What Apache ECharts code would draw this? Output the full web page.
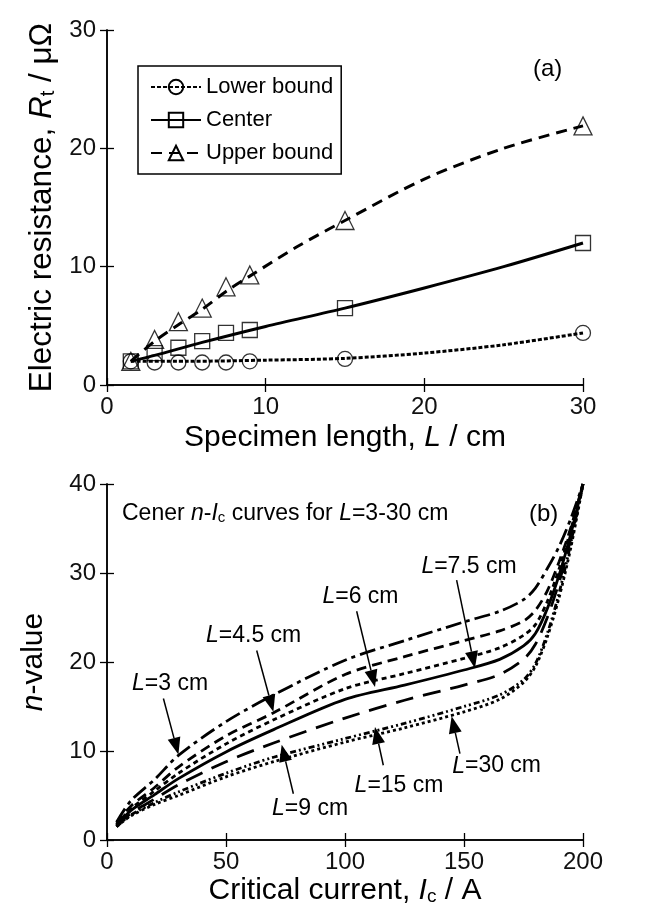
<!DOCTYPE html>
<html>
<head>
<meta charset="utf-8">
<script src="https://cdn.jsdelivr.net/npm/echarts@6/dist/echarts.min.js"></script>
<style>
  html, body { margin: 0; padding: 0; background: #fff; }
  #chart { width: 656px; height: 916px; }
</style>
</head>
<body>
<div id="chart"></div>
<script>
// ---- (a) electric resistance vs specimen length ----
const lengths = [1.5, 3, 4.5, 6, 7.5, 9, 15, 30];
const lowerPts = [2.0, 1.9, 1.9, 1.9, 1.9, 2.0, 2.2, 4.4];
const centerPts = [2.0, 2.7, 3.15, 3.7, 4.4, 4.65, 6.5, 12.0];
const upperPts = [2.0, 3.85, 5.35, 6.5, 8.3, 9.3, 13.9, 21.9];

// fitted curves
const fitLowerL = [1.5, 5, 10, 15, 20, 25, 30];
const fitLower = [2.0, 2.0, 2.1, 2.25, 2.7, 3.4, 4.4];
const fitCenterL = [1.5, 3, 6, 10, 15, 20, 25, 30];
const fitCenter = [2.0, 2.5, 3.6, 4.95, 6.5, 8.2, 10.0, 12.0];
const fitUpperL = [1.5, 3, 4.5, 6, 7.5, 9, 12, 15, 20, 25, 30];
const fitUpper = [2.0, 3.7, 5.1, 6.4, 7.9, 9.2, 11.7, 13.9, 17.4, 20.0, 21.9];

// ---- (b) n-value vs critical current ----
const currents = [4, 10, 20, 30, 50, 70, 100, 125, 150, 165, 175, 180, 185, 190, 195, 200];
const n3 = [2.0, 4.4, 6.8, 9.5, 13.3, 16.3, 20.2, 22.4, 24.5, 25.7, 27.0, 28.3, 30.5, 33.0, 36.2, 40];
const n4_5 = [1.8, 3.8, 5.9, 8.2, 11.7, 14.3, 18.6, 20.6, 22.4, 23.5, 24.6, 25.8, 28.0, 31.3, 35.2, 40];
const n6 = [1.7, 3.5, 5.5, 7.5, 10.8, 13.5, 17.0, 18.7, 20.4, 21.6, 23.0, 24.2, 26.8, 30.5, 35.0, 40];
const n7_5 = [1.6, 3.3, 5.1, 6.9, 9.9, 12.4, 15.8, 17.4, 19.1, 20.3, 21.8, 23.2, 26.0, 29.8, 34.5, 40];
const n9 = [1.5, 3.0, 4.6, 6.2, 8.8, 10.9, 13.7, 15.7, 17.4, 18.6, 20.3, 22.0, 25.0, 29.0, 34.0, 40];
const n15 = [1.5, 2.8, 4.2, 5.4, 7.5, 9.3, 11.4, 13.1, 15.0, 16.3, 18.0, 19.8, 23.2, 27.8, 33.5, 40];
const n30 = [1.5, 2.7, 4.0, 5.0, 7.1, 8.8, 11.0, 12.6, 14.4, 15.8, 17.7, 19.5, 22.8, 27.3, 33.0, 40];

// annotation labels and arrows (data units of panel b)
const arrowLabels = ['3', '4.5', '6', '7.5', '9', '15', '30'];
const labelPos = [[26.5, 17.6], [61.6, 23.0], [106.5, 27.3], [152.1, 30.7], [85.3, 3.5], [122.7, 6.1], [163.7, 8.3]];
const arrowTail = [[23.7, 15.9], [62.9, 21.3], [104.9, 25.7], [146.9, 29.2], [78.3, 5.2], [116.1, 8.4], [148.3, 9.7]];
const arrowHead = [[30.0, 9.6], [69.9, 14.4], [112.6, 17.2], [154.6, 19.3], [73.4, 10.7], [112.6, 12.7], [144.8, 13.9]];

const FONT = 'Liberation Sans, Arial, sans-serif';
const zip = (xs, ys) => xs.map((x, i) => [x, ys[i]]);

function richName(size) {
  return {
    i: { fontStyle: 'italic', fontSize: size, fontFamily: FONT, color: '#000' },
    sub: { fontSize: Math.round(size * 0.63), fontFamily: FONT, color: '#000', verticalAlign: 'bottom', padding: [10, 0, 0, 0] }
  };
}

function axes(grid, min, max, interval, name, gap, isX, nameSize) {
  const main = {
    gridIndex: grid, type: 'value', min: min, max: max, interval: interval,
    name: name, nameLocation: 'middle', nameGap: gap,
    nameTextStyle: { fontSize: nameSize, fontFamily: FONT, color: '#000', rich: richName(nameSize) },
    axisLine: { lineStyle: { color: '#000', width: 1.5 } },
    axisTick: { inside: true, length: 7, lineStyle: { color: '#000', width: 1.3 } },
    axisLabel: { fontSize: 24, fontFamily: FONT, color: '#111', margin: isX ? 10 : 11 },
    splitLine: { show: false }
  };
  const mirror = {
    gridIndex: grid, type: 'value', min: min, max: max, interval: interval,
    position: isX ? 'top' : 'right',
    axisLine: { lineStyle: { color: '#000', width: 1.5 } },
    axisTick: { inside: true, length: 7, lineStyle: { color: '#000', width: 1.3 } },
    axisLabel: { show: false },
    splitLine: { show: false }
  };
  return [main, mirror];
}

const xAxes = [
  ...axes(0, 0, 30, 10, 'Specimen length, {i|L} / cm', 38, true, 30),
  ...axes(1, 0, 200, 50, 'Critical current, {i|I}{sub|c} / A', 36, true, 30)
];
const yAxes = [
  ...axes(0, 0, 30, 10, 'Electric resistance, {i|R}{sub|t} / μΩ', 49, false, 31.5),
  ...axes(1, 0, 40, 10, '{i|n}-value', 58, false, 30)
];

function fitSeries(name, xs, ys, dash, symbol) {
  return {
    name: name, type: 'line', xAxisIndex: 0, yAxisIndex: 0,
    data: zip(xs, ys), smooth: 0.3, showSymbol: false, symbol: symbol,
    lineStyle: { color: '#000', width: 3, type: dash },
    itemStyle: { color: 'rgba(0,0,0,0)', borderColor: '#000', borderWidth: 1.3 },
    silent: true, z: 2
  };
}

function markSeries(name, ys, symbol, size) {
  return {
    name: name, type: 'scatter', xAxisIndex: 0, yAxisIndex: 0,
    data: zip(lengths, ys), symbol: symbol, symbolSize: size,
    itemStyle: { color: 'rgba(0,0,0,0)', borderColor: '#000', borderWidth: 1.3 },
    silent: true, z: 3
  };
}

function curve(name, ys, dash) {
  return {
    name: name, type: 'line', xAxisIndex: 2, yAxisIndex: 2,
    data: zip(currents, ys), smooth: 0.3, showSymbol: false, symbol: 'none',
    lineStyle: { color: '#000', width: 2.8, type: dash },
    silent: true
  };
}

const labelItems = arrowLabels.map((v, i) => ({
  coord: labelPos[i], value: v,
  label: { formatter: '{i|L}=' + v + ' cm' }
}));

const sol = curve('L=7.5 cm', n7_5, 'solid');
sol.markPoint = {
  silent: true, symbol: 'circle', symbolSize: 1,
  itemStyle: { color: 'rgba(0,0,0,0)' },
  label: {
    show: true, position: 'inside', fontSize: 23, fontFamily: FONT, color: '#000',
    rich: { i: { fontStyle: 'italic', fontSize: 23, fontFamily: FONT, color: '#000' } }
  },
  data: labelItems
};

const option = {
  backgroundColor: '#fff',
  animation: false,
  grid: [
    { left: 107, right: 73, top: 30, height: 355 },
    { left: 107, right: 73, top: 484, height: 356 }
  ],
  xAxis: xAxes,
  yAxis: yAxes,
  legend: {
    data: ['Lower bound', 'Center', 'Upper bound'],
    orient: 'vertical', left: 138, top: 66,
    itemWidth: 50, itemHeight: 18, itemGap: 11,
    padding: [10, 8, 10, 12],
    borderColor: '#000', borderWidth: 1.5, borderRadius: 0,
    selectedMode: false,
    textStyle: { fontSize: 22, fontFamily: FONT, color: '#000' }
  },
  graphic: [
    { type: 'text', left: 533, top: 57, style: { text: '(a)', fontSize: 24, fontFamily: FONT, fill: '#000' } },
    { type: 'text', left: 529, top: 502, style: { text: '(b)', fontSize: 24, fontFamily: FONT, fill: '#000' } },
    {
      type: 'text', left: 122, top: 502,
      style: {
        text: 'Cener {i|n}-{i|I}{sub|c} curves for {i|L}=3-30 cm',
        fontSize: 23, fontFamily: FONT, fill: '#000',
        rich: {
          i: { fontStyle: 'italic', fontSize: 23, fontFamily: FONT, fill: '#000' },
          sub: { fontSize: 15, fontFamily: FONT, fill: '#000', verticalAlign: 'bottom', padding: [8, 0, 0, 0] }
        }
      }
    }
  ],
  series: [
    fitSeries('Lower bound', fitLowerL, fitLower, [4, 2], 'circle'),
    fitSeries('Center', fitCenterL, fitCenter, 'solid', 'rect'),
    fitSeries('Upper bound', fitUpperL, fitUpper, [11, 7], 'triangle'),
    markSeries('lower points', lowerPts, 'circle', 15),
    markSeries('center points', centerPts, 'rect', 15),
    markSeries('upper points', upperPts, 'triangle', 18),
    curve('L=3 cm', n3, [16, 5, 4, 5]),
    curve('L=4.5 cm', n4_5, [10, 6]),
    curve('L=6 cm', n6, [5, 4]),
    sol,
    curve('L=9 cm', n9, [18, 10]),
    curve('L=15 cm', n15, [6, 3, 2, 3, 2, 3]),
    curve('L=30 cm', n30, [3, 3])
  ]
};

const chart = echarts.init(document.getElementById('chart'));
chart.setOption(option);

// arrows: positions come from panel (b) scales
const arrowGraphics = [];
arrowTail.forEach((t, i) => {
  const p1 = chart.convertToPixel({ xAxisIndex: 2, yAxisIndex: 2 }, t);
  const p2 = chart.convertToPixel({ xAxisIndex: 2, yAxisIndex: 2 }, arrowHead[i]);
  const dx = p2[0] - p1[0], dy = p2[1] - p1[1];
  const len = Math.sqrt(dx * dx + dy * dy);
  const ux = dx / len, uy = dy / len;
  const headLen = 17, halfW = 6.5;
  const bx = p2[0] - ux * headLen, by = p2[1] - uy * headLen;
  arrowGraphics.push({
    type: 'line', silent: true,
    shape: { x1: p1[0], y1: p1[1], x2: bx, y2: by },
    style: { stroke: '#000', lineWidth: 1.5 }
  });
  arrowGraphics.push({
    type: 'polygon', silent: true,
    shape: { points: [[p2[0], p2[1]], [bx - uy * halfW, by + ux * halfW], [bx + uy * halfW, by - ux * halfW]] },
    style: { fill: '#000' }
  });
});
chart.setOption({ graphic: option.graphic.concat(arrowGraphics) });
</script>
</body>
</html>
